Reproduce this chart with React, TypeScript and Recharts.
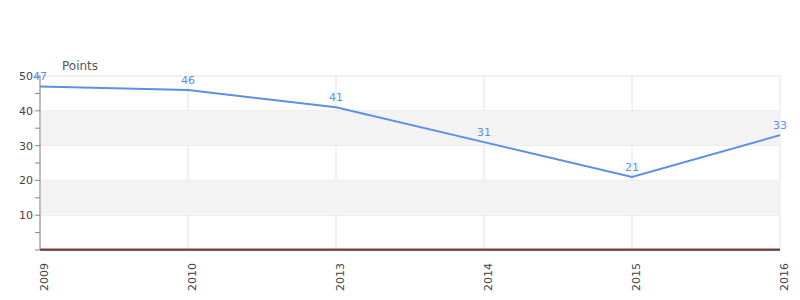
import {
  CartesianGrid,
  LabelList,
  Legend,
  Line,
  LineChart,
  ReferenceArea,
  ReferenceLine,
  XAxis,
  YAxis
} from "recharts";

const years = ["2009", "2010", "2013", "2014", "2015", "2016"];
const points = [47, 46, 41, 31, 21, 33];
const yTicks = [0, 5, 10, 15, 20, 25, 30, 35, 40, 45, 50];
const gridValues = [0, 10, 20, 30, 40, 50];
const bands = [
  [10, 20],
  [30, 40]
];

const data = years.map((year, i) => ({ year, points: points[i] }));

const FONT = "'DejaVu Sans', sans-serif";
const BLUE = "#5b8fe8";

// thin red baseline sitting just above the dark x axis line
function BaseLine(props: any) {
  const { x1, x2, y1 } = props;
  return <line x1={x1} x2={x2} y1={y1 - 1} y2={y1 - 1} stroke="#d0201c" strokeWidth={1} />;
}

function SeriesTitle() {
  return <span style={{ fontFamily: FONT, fontSize: 12, color: "#555" }}>Points</span>;
}

export default function App() {
  return (
    <div style={{ position: "absolute", left: 0, top: 0, width: 800, height: 300, background: "#fff" }}>
      <LineChart width={800} height={300} data={data} margin={{ top: 58, right: 20, left: 0, bottom: 0 }}>
        {bands.map(([a, b]) => (
          <ReferenceArea key={a} y1={a} y2={b} fill="#f3f3f3" fillOpacity={1} stroke="none" ifOverflow="hidden" />
        ))}
        <CartesianGrid stroke="#e4e4e4" horizontalValues={gridValues} />
        <XAxis
          dataKey="year"
          scale="point"
          height={50}
          axisLine={{ stroke: "#333", strokeWidth: 1.5 }}
          tickLine={false}
          tickMargin={7}
          interval={0}
          angle={-90}
          textAnchor="end"
          tick={{ fontFamily: FONT, fontSize: 11, fill: "#444" }}
        />
        <YAxis
          width={40}
          domain={[0, 50]}
          ticks={yTicks}
          interval={0}
          tickSize={5}
          axisLine={{ stroke: "#888" }}
          tickLine={{ stroke: "#888" }}
          tickFormatter={(v: number) => (v > 0 && v % 10 === 0 ? String(v) : "")}
          tick={{ fontFamily: FONT, fontSize: 11, fill: "#444" }}
        />
        <ReferenceLine y={0} shape={BaseLine} />
        <Legend verticalAlign="top" align="left" wrapperStyle={{ top: 56, left: 62, width: "auto" }} content={SeriesTitle} />
        <Line
          type="linear"
          dataKey="points"
          name="Points"
          stroke={BLUE}
          strokeWidth={2}
          dot={false}
          isAnimationActive={false}
        >
          <LabelList dataKey="points" position="top" offset={6} fill={BLUE} fontSize={11} fontFamily={FONT} />
        </Line>
      </LineChart>
    </div>
  );
}
